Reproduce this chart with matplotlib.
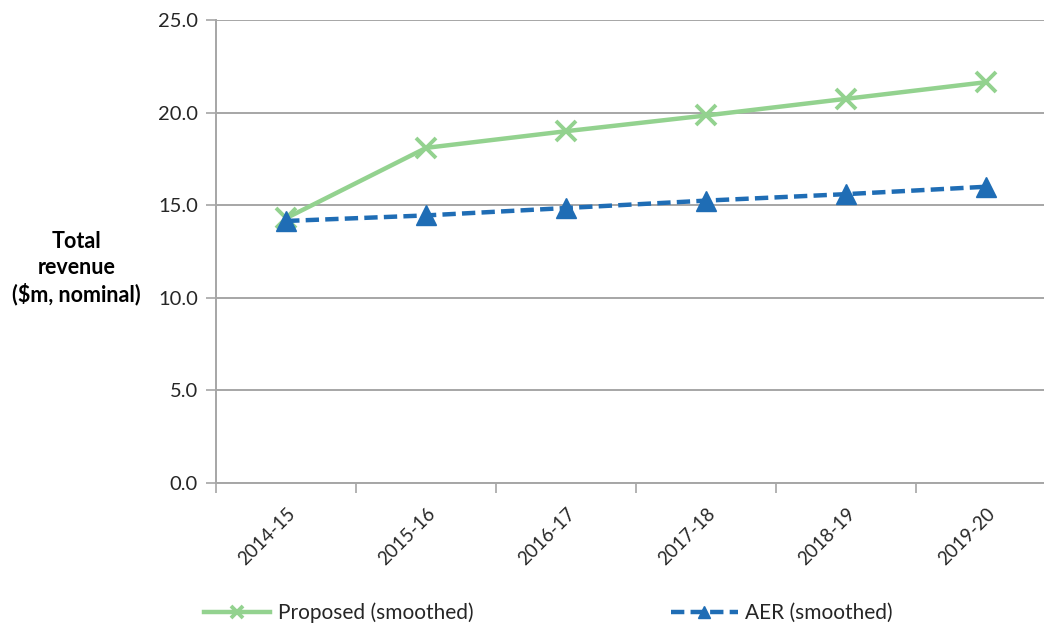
import numpy as np
import matplotlib.pyplot as plt
from matplotlib.ticker import FixedLocator

plt.rcParams['font.family'] = ['Lato', 'DejaVu Sans']

years = ['2014-15', '2015-16', '2016-17', '2017-18', '2018-19', '2019-20']
proposed = [14.3, 18.1, 19.0, 19.85, 20.75, 21.65]
aer = [14.15, 14.45, 14.85, 15.25, 15.6, 16.0]
yticks = [0, 5, 10, 15, 20, 25]

green = '#93D28F'
blue = '#1F6DB5'
grid = '#A6A6A6'
txt = '#262626'

fig = plt.figure(figsize=(10.44, 6.28), dpi=100)
ax = fig.add_axes([0.207, 0.231, 0.805, 0.737])

x = np.arange(len(years))
ax.plot(x, proposed, color=green, lw=3.2, marker='x', ms=14, mew=2.8,
        label='Proposed (smoothed)', zorder=3)
ax.plot(x, aer, color=blue, lw=3.2, ls=(0, (3, 1.4)), marker='^', ms=15,
        label='AER (smoothed)', zorder=4)

ax.set_xlim(-0.5, len(years) - 0.5)
ax.set_ylim(0, 25)
ax.set_yticks(yticks)
ax.set_yticklabels(['%.1f' % v for v in yticks])
ax.yaxis.grid(True, color=grid, lw=1.4)
ax.set_axisbelow(True)

ax.set_xticks(x)
ax.set_xticklabels(years, rotation=45, ha='right', rotation_mode='anchor')
ax.xaxis.set_minor_locator(FixedLocator(np.arange(-0.5, len(years), 1.0)))
ax.tick_params(axis='x', which='major', length=0, pad=16, labelsize=13.5, labelcolor=txt)
ax.tick_params(axis='x', which='minor', length=7, color=grid, width=1.2)
ax.tick_params(axis='y', length=7, color=grid, width=1.2, labelsize=14.5, labelcolor=txt, pad=6)

for s in ['top', 'right']:
    ax.spines[s].set_visible(False)
for s in ['left', 'bottom']:
    ax.spines[s].set_color(grid)
    ax.spines[s].set_linewidth(1.4)

fig.text(0.073, 0.573, 'Total\nrevenue\n($m, nominal)', ha='center', va='center',
         fontsize=15.5, fontweight='bold', color='black', linespacing=1.28)

fig.legend(loc='center', bbox_to_anchor=(0.525, 0.024), ncol=2, frameon=False,
           fontsize=15, handlelength=3.2, columnspacing=9.5, handletextpad=0.35,
           markerscale=0.6, labelcolor=txt)

fig.savefig('out.png', dpi=100)
